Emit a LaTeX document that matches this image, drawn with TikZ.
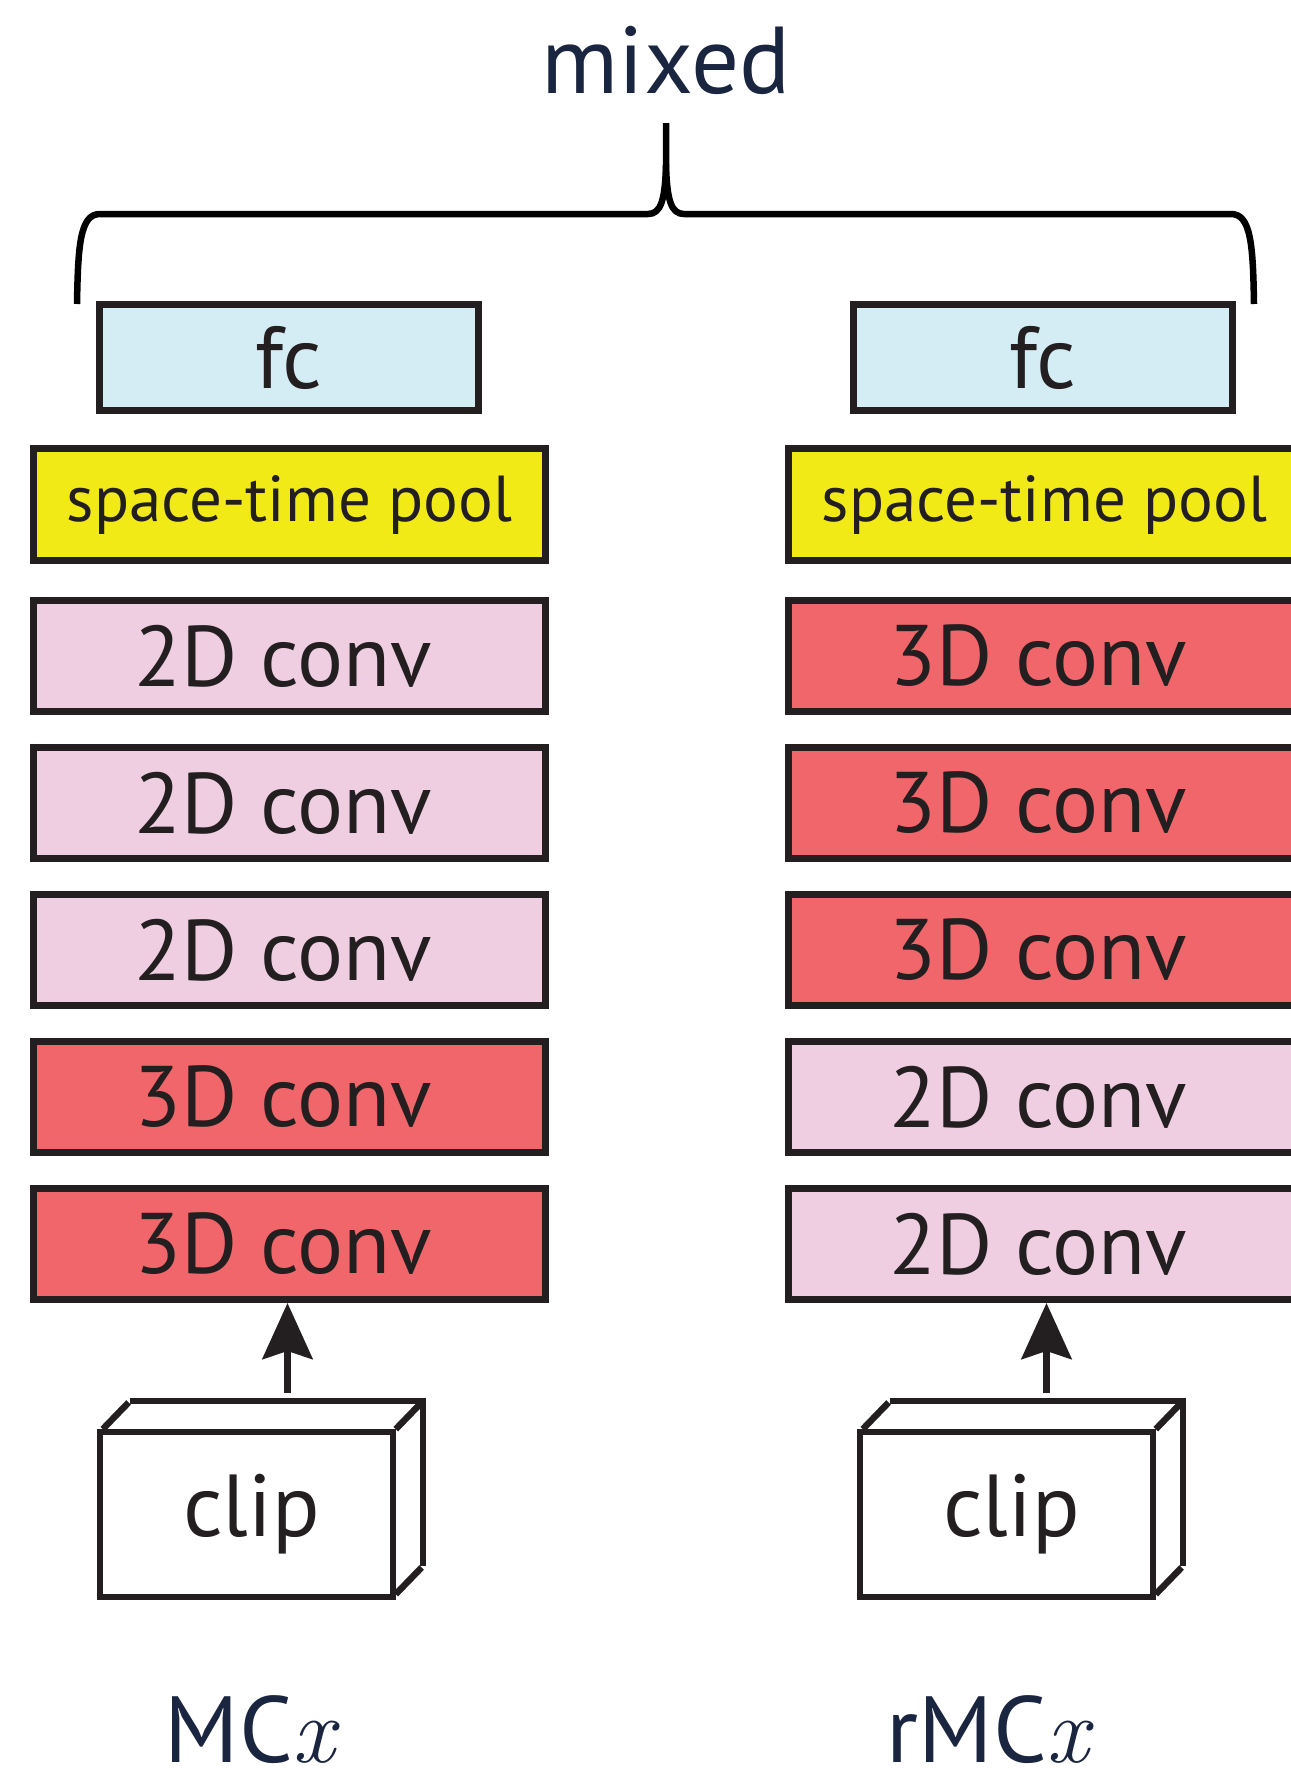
\documentclass[tikz,border=0pt]{standalone}
\usepackage{fontspec}
\setmainfont{PT Sans}
\newfontfamily\lmr{Latin Modern Roman}
\usetikzlibrary{arrows.meta}

\definecolor{ink}{HTML}{231F20}
\definecolor{navy}{HTML}{1A2540}
\definecolor{fcblue}{HTML}{D4EDF4}
\definecolor{poolyellow}{HTML}{F2EA17}
\definecolor{convpink}{HTML}{EFCEE1}
\definecolor{convred}{HTML}{F1666A}

\newcommand{\varx}{{\lmr\itshape x}}

\begin{document}
\begin{tikzpicture}[x=1pt,y=-1pt,
  layer/.style={draw=ink, line width=7pt, inner sep=0pt,
    minimum width=512pt, minimum height=111pt, text=ink,
    font=\fontsize{86}{90}\selectfont},
  fcbox/.style={layer, fill=fcblue, minimum width=379pt,
    minimum height=106pt, font=\fontsize{88}{92}\selectfont},
  poolbox/.style={layer, fill=poolyellow, minimum height=112pt,
    font=\fontsize{65}{70}\selectfont},
  twod/.style={layer, fill=convpink, execute at begin node={\hspace*{-12pt}}},
  threed/.style={layer, fill=convred, execute at begin node={\hspace*{-12pt}}},
  clipface/.style={draw=ink, fill=white, line width=6.5pt, inner sep=0pt,
    outer sep=0pt, minimum width=293pt, minimum height=165pt, text=ink,
    font=\fontsize{88}{92}\selectfont,
    execute at begin node={\hspace*{10pt}}},
  clipedge/.style={draw=ink, line width=6.5pt, line join=miter},
  clipdiag/.style={draw=ink, line width=6.5pt, shorten <=4pt, shorten >=2pt},
  flow/.style={draw=ink, line width=7pt,
    -{Stealth[length=56pt,width=50pt,inset=8pt]}},
  brace/.style={draw=black, line width=6.5pt, line join=round, line cap=butt},
  title/.style={text=navy, inner sep=0pt, font=\fontsize{95}{100}\selectfont},
  netname/.style={text=navy, inner sep=0pt, font=\fontsize{94}{98}\selectfont}
]
\useasboundingbox (0,0) rectangle (1290,1785);

% curly brace grouping both networks
\draw[brace] (77,304) .. controls (78,245) and (80,214) .. (100,214)
  -- (648,214) .. controls (661,214) and (665,200) .. (666,165) -- (666,123);
\draw[brace] (1254,304) .. controls (1253,245) and (1251,214) .. (1231,214)
  -- (684,214) .. controls (671,214) and (667,200) .. (666,165);
\node[title, anchor=base] (mixed) at (666,93) {mixed};

% ---------- MCx column ----------
\node[fcbox]   (fcL)   at (289,357.5) {fc};
\node[poolbox] (poolL) at (289.5,504.5) {space-time pool};
\node[twod]    (cL1)   at (289.5,656) {2D conv};
\node[twod]    (cL2)   at (289.5,803) {2D conv};
\node[twod]    (cL3)   at (289.5,950) {2D conv};
\node[threed]  (cL4)   at (289.5,1097) {3D conv};
\node[threed]  (cL5)   at (289.5,1244) {3D conv};

\draw[clipedge] (130,1401) -- (423,1401) -- (423,1566);
\node[clipface] (clipL) at (246.5,1514.5) {clip};
\draw[clipdiag] (clipL.north west) -- ++(30,-31);
\draw[clipdiag] (clipL.north east) -- ++(30,-31);
\draw[clipdiag] (clipL.south east) -- ++(30,-31);

\coordinate (tailL) at (287.5,1393);
\draw[flow] (tailL) -- (tailL |- cL5.south);
\node[netname, anchor=base] (nameL) at (250,1762) {MC\varx};

% ---------- rMCx column ----------
\node[fcbox]   (fcR)   at (1043,357.5) {fc};
\node[poolbox] (poolR) at (1044.5,504.5) {space-time pool};
\node[threed]  (cR1)   at (1044.5,656) {3D conv};
\node[threed]  (cR2)   at (1044.5,803) {3D conv};
\node[threed]  (cR3)   at (1044.5,950) {3D conv};
\node[twod]    (cR4)   at (1044.5,1097) {2D conv};
\node[twod]    (cR5)   at (1044.5,1244) {2D conv};

\draw[clipedge] (890,1401) -- (1183,1401) -- (1183,1566);
\node[clipface] (clipR) at (1006.5,1514.5) {clip};
\draw[clipdiag] (clipR.north west) -- ++(30,-31);
\draw[clipdiag] (clipR.north east) -- ++(30,-31);
\draw[clipdiag] (clipR.south east) -- ++(30,-31);

\coordinate (tailR) at (1046.5,1393);
\draw[flow] (tailR) -- (tailR |- cR5.south);
\node[netname, anchor=base] (nameR) at (988,1762) {rMC\varx};
\end{tikzpicture}
\end{document}
